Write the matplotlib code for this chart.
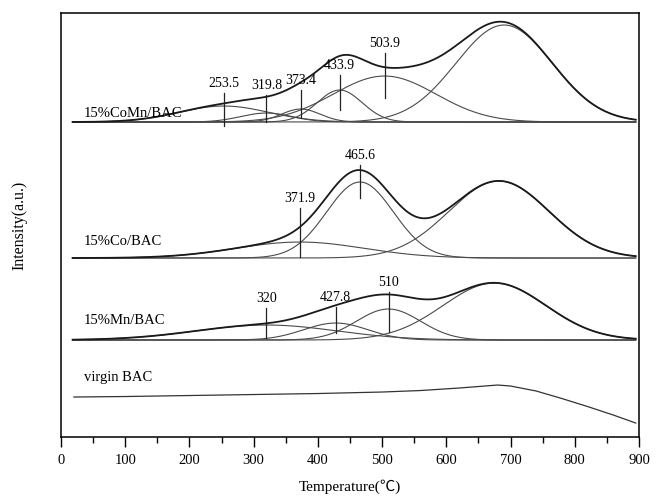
import numpy as np
import matplotlib
matplotlib.use("Agg")
import matplotlib.pyplot as plt
from matplotlib.ticker import MultipleLocator

plt.rcParams['font.family'] = ['Liberation Serif', 'Noto Sans CJK SC']

# --- peak-fit components (centre, height, width) ---
comn_centres = [253.5, 319.8, 373.4, 433.9, 503.9, 690.0]
comn_heights = [16, 9, 13, 32, 46, 97]
comn_widths = [70, 40, 30, 35, 80, 75]

co_centres = [371.9, 465.6, 682.0]
co_heights = [16, 76, 77]
co_widths = [100, 52, 78]

mn_centres = [320.0, 427.8, 510.0, 675.0]
mn_heights = [15, 17, 31, 57]
mn_widths = [110, 50, 50, 80]

# virgin BAC profile (no deconvolution)
virgin_temp = [20, 100, 200, 300, 400, 500, 560, 620, 660, 680, 700, 740, 780, 820, 860, 895]
virgin_signal = [40, 40.5, 41.5, 42.5, 43.5, 45, 46.5, 49, 51, 52, 51, 46, 38.5, 30.5, 22, 14]

# labelled peaks per sample
comn_labels = ['253.5', '319.8', '373.4', '433.9', '503.9']
co_labels = ['371.9', '465.6']
mn_labels = ['320', '427.8', '510']

# --- layout (vertical stacking, marker lines) ---
comn_offset, co_offset, mn_offset = 315, 179, 97
comn_marks = [(311, 344), (315, 342), (319, 347), (327, 362), (339, 384)]
co_marks = [(180, 229), (239, 272)]
mn_marks = [(99, 129), (104, 130), (105, 145)]

T = np.linspace(18, 895, 700)


def gauss(c, h, w):
    return h * np.exp(-(T - c) ** 2 / (2 * w ** 2))


fig = plt.figure(figsize=(6.56, 5.01), dpi=100)
ax = fig.add_axes([0.093, 0.1277, 0.881, 0.8463])

for centres, heights, widths, off in [
    (comn_centres, comn_heights, comn_widths, comn_offset),
    (co_centres, co_heights, co_widths, co_offset),
    (mn_centres, mn_heights, mn_widths, mn_offset),
]:
    total = np.zeros_like(T)
    for c, h, w in zip(centres, heights, widths):
        comp = gauss(c, h, w)
        total += comp
        ax.plot(T, comp + off, color='#4a4a4a', lw=0.8)
    ax.plot(T, total + off, color='#1a1a1a', lw=1.3)

ax.plot(virgin_temp, virgin_signal, color='#333333', lw=0.9)

# peak markers
for labels, centres, marks in [
    (comn_labels, comn_centres, comn_marks),
    (co_labels, co_centres, co_marks),
    (mn_labels, mn_centres, mn_marks),
]:
    for lab, c, (y0, y1) in zip(labels, centres, marks):
        ax.plot([c, c], [y0, y1], color='#222222', lw=0.9)
        ax.text(c, y1 + 3, lab, ha='center', va='bottom', fontsize=10)

ax.text(36, 324, '15%CoMn/BAC', fontsize=10.5, va='center')
ax.text(36, 196, '15%Co/BAC', fontsize=10.5, va='center')
ax.text(36, 117, '15%Mn/BAC', fontsize=10.5, va='center')
ax.text(36, 60, 'virgin BAC', fontsize=10.5, va='center')

ax.set_xlim(0, 900)
ax.set_ylim(0, 424)
ax.set_yticks([])
ax.xaxis.set_major_locator(MultipleLocator(100))
ax.xaxis.set_minor_locator(MultipleLocator(50))
ax.tick_params(axis='x', which='major', direction='out', length=7, width=1.0,
               labelsize=10.5, pad=5)
ax.tick_params(axis='x', which='minor', direction='out', length=4, width=1.0)
for s in ax.spines.values():
    s.set_linewidth(1.1)

ax.set_xlabel('Temperature(℃)', fontsize=11, labelpad=9)
ax.set_ylabel('Intensity(a.u.)', fontsize=11.5, labelpad=24)

fig.savefig('out.png', dpi=100)
